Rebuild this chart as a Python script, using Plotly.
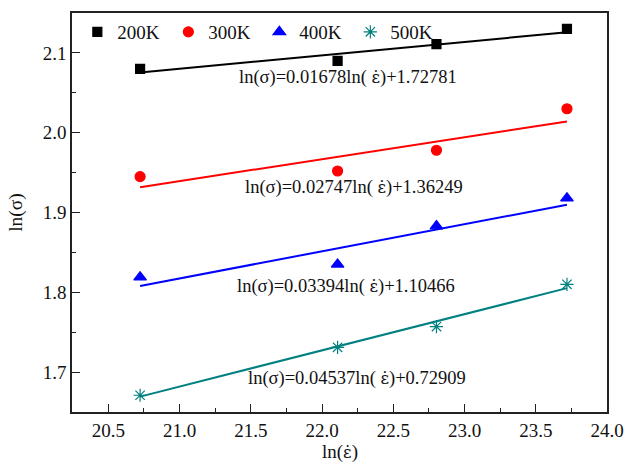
import numpy as np
import plotly.graph_objects as go

# ln of strain rate (1e9, 4e9, 8e9, 2e10 s^-1)
ln_rate = [20.723, 22.109, 22.803, 23.719]

temps = ["200K", "300K", "400K", "500K"]
ln_stress_200 = [2.080, 2.090, 2.111, 2.130]
ln_stress_300 = [1.945, 1.952, 1.978, 2.030]
ln_stress_400 = [1.819, 1.835, 1.883, 1.918]
ln_stress_500 = [1.671, 1.731, 1.757, 1.810]

# Linear fits: ln(sigma) = slope * ln(rate) + intercept
slopes = [0.01678, 0.02747, 0.03394, 0.04537]
intercepts = [1.72781, 1.36249, 1.10466, 0.72909]

series = [ln_stress_200, ln_stress_300, ln_stress_400, ln_stress_500]
colors = ["#000000", "#ff0000", "#0000ff", "#008080"]
symbols = ["square", "circle", "triangle-up", "asterisk-open"]
sizes = [9, 10, 11, 11]

# label anchor positions for the fit equations (data coords)
label_x = [22.18, 22.225, 22.17, 22.245]
label_y = [2.0687, 1.9308, 1.8076, 1.6925]

FONT = "Liberation Serif, Times New Roman, serif"
# strain-rate symbol: epsilon with a dot above, set in a font with mark positioning
EPS_DOT = '<span style="font-family:DejaVu Serif;font-size:16.5px">ε\u0307</span>'

fig = go.Figure()
for name, ys, c, sym, sz in zip(temps, series, colors, symbols, sizes):
    fig.add_trace(go.Scatter(
        x=ln_rate, y=ys, mode="markers", name=name,
        marker=dict(symbol=sym, color=c, size=sz,
                    line=dict(color=c, width=1.2)),
    ))

for k, (m, b, c) in enumerate(zip(slopes, intercepts, colors)):
    xs = np.array([ln_rate[0], ln_rate[-1]])
    fig.add_trace(go.Scatter(
        x=xs, y=m * xs + b, mode="lines", showlegend=False,
        line=dict(color=c, width=2), hoverinfo="skip",
    ))
    fig.add_annotation(
        x=label_x[k], y=label_y[k], xref="x", yref="y", showarrow=False,
        text=f"ln(σ)={m:.5f}ln( {EPS_DOT})+{b:.5f}",
        font=dict(family=FONT, size=18.5, color="#111"),
    )

# x-axis title
fig.add_annotation(
    x=0.5, y=-0.101, xref="paper", yref="paper", showarrow=False,
    xanchor="center", yanchor="middle",
    text=f"ln({EPS_DOT})",
    font=dict(family=FONT, size=19, color="#111"),
)

axis_common = dict(
    showgrid=False, zeroline=False, showline=True, linecolor="#222",
    linewidth=1.6, mirror=True, ticks="inside", ticklen=8, tickwidth=1.3,
    tickcolor="#222", tickfont=dict(family=FONT, size=19, color="#111"),
    automargin=False,
)

fig.update_xaxes(
    range=[20.245, 24.0], tick0=20.5, dtick=0.5, tickformat=".1f",
    minor=dict(ticks="inside", ticklen=4, tickwidth=1.3, tickcolor="#222", dtick=0.25, tick0=20.25),
    **axis_common,
)
fig.update_yaxes(
    range=[1.65, 2.15], tick0=1.7, dtick=0.1, tickformat=".1f",
    minor=dict(ticks="inside", ticklen=4, tickwidth=1.3, tickcolor="#222", dtick=0.05),
    title=dict(text="ln(σ)", font=dict(family=FONT, size=19.5, color="#111"), standoff=15),
    **axis_common,
)

fig.update_layout(
    width=628, height=463,
    margin=dict(l=72, r=21, t=13, b=51),
    plot_bgcolor="white", paper_bgcolor="white",
    font=dict(family=FONT, size=19, color="#111"),
    legend=dict(
        orientation="h", x=0.01, y=1.0, xanchor="left", yanchor="top",
        bgcolor="rgba(0,0,0,0)", entrywidth=46, entrywidthmode="pixels",
        font=dict(family=FONT, size=19, color="#111"),
    ),
)

fig.write_html("out.html")
